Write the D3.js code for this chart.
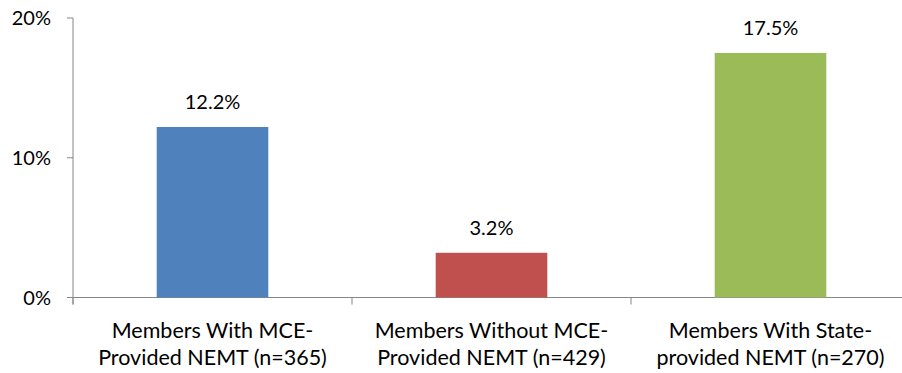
<!DOCTYPE html>
<html>
<head>
<meta charset="utf-8">
<script src="https://cdn.jsdelivr.net/npm/d3@7"></script>
<style>
body{margin:0;background:#fff;}
svg{display:block;font-family:Lato,"Noto Sans",sans-serif;}
</style>
</head>
<body>
<script>
// chart data
const categories=[
  ["Members With MCE-","Provided NEMT (n=365)"],
  ["Members Without MCE-","Provided NEMT (n=429)"],
  ["Members With State-","provided NEMT (n=270)"]
];
const values=[12.2,3.2,17.5];
const colors=["#4F81BD","#C0504D","#9BBB59"];
const yTicks=[0,10,20];

const w=902,h=373;
const svg=d3.select("body")
.append("svg")
.attr("width",w)
.attr("height",h)

const x=d3.scaleBand()
.domain(d3.range(categories.length))
.range([73,910])
.paddingInner(0.6)
.paddingOuter(0.3)
const y=d3.scaleLinear().domain([0,20]).range([297.5,18])

const axisColor="#868686"
// y axis
const ya=svg.append("g")
ya.append("line")
.attr("x1",73).attr("x2",73)
.attr("y1",y(20)).attr("y2",y(0)+7)
.attr("stroke",axisColor)
ya.selectAll(".tk")
.data(yTicks)
.join("line")
.attr("x1",67).attr("x2",73)
.attr("y1",d=>y(d)).attr("y2",d=>y(d))
.attr("stroke",axisColor)
ya.selectAll("text")
.data(yTicks)
.join("text")
.attr("x",51)
.attr("y",d=>y(d))
.attr("dy","0.36em")
.attr("text-anchor","end")
.style("font-size","20px")
.attr("fill","#000")
.text(d=>d+"%")

// x axis
const xa=svg.append("g")
xa.append("line")
.attr("x1",73).attr("x2",w)
.attr("y1",y(0)).attr("y2",y(0))
.attr("stroke",axisColor)
xa.selectAll("line.tk")
.data(d3.range(categories.length+1))
.join("line")
.attr("class","tk")
.attr("x1",i=>73+i*x.step()).attr("x2",i=>73+i*x.step())
.attr("y1",y(0)).attr("y2",y(0)+7)
.attr("stroke",axisColor)

// bars
svg.selectAll("rect.bar")
.data(values)
.join("rect")
.attr("class","bar")
.attr("x",(d,i)=>x(i))
.attr("width",x.bandwidth())
.attr("y",d=>y(d))
.attr("height",d=>y(0)-y(d))
.attr("fill",(d,i)=>colors[i])

// value labels
svg.selectAll("text.val")
.data(values)
.join("text")
.attr("class","val")
.attr("x",(d,i)=>x(i)+x.bandwidth()/2)
.attr("y",d=>y(d)-18)
.attr("text-anchor","middle")
.style("font-size","20px")
.text(d=>d.toFixed(1)+"%")

// category labels
const cl=svg.selectAll("text.cat")
.data(categories)
.join("text")
.attr("class","cat")
.attr("text-anchor","middle")
.style("font-size","21.5px")
cl.selectAll("tspan")
.data((d,i)=>d.map(t=>({t,i})))
.join("tspan")
.attr("x",d=>x(d.i)+x.bandwidth()/2)
.attr("y",(d,j)=>338+j*27)
.text(d=>d.t)
</script>
</body>
</html>
